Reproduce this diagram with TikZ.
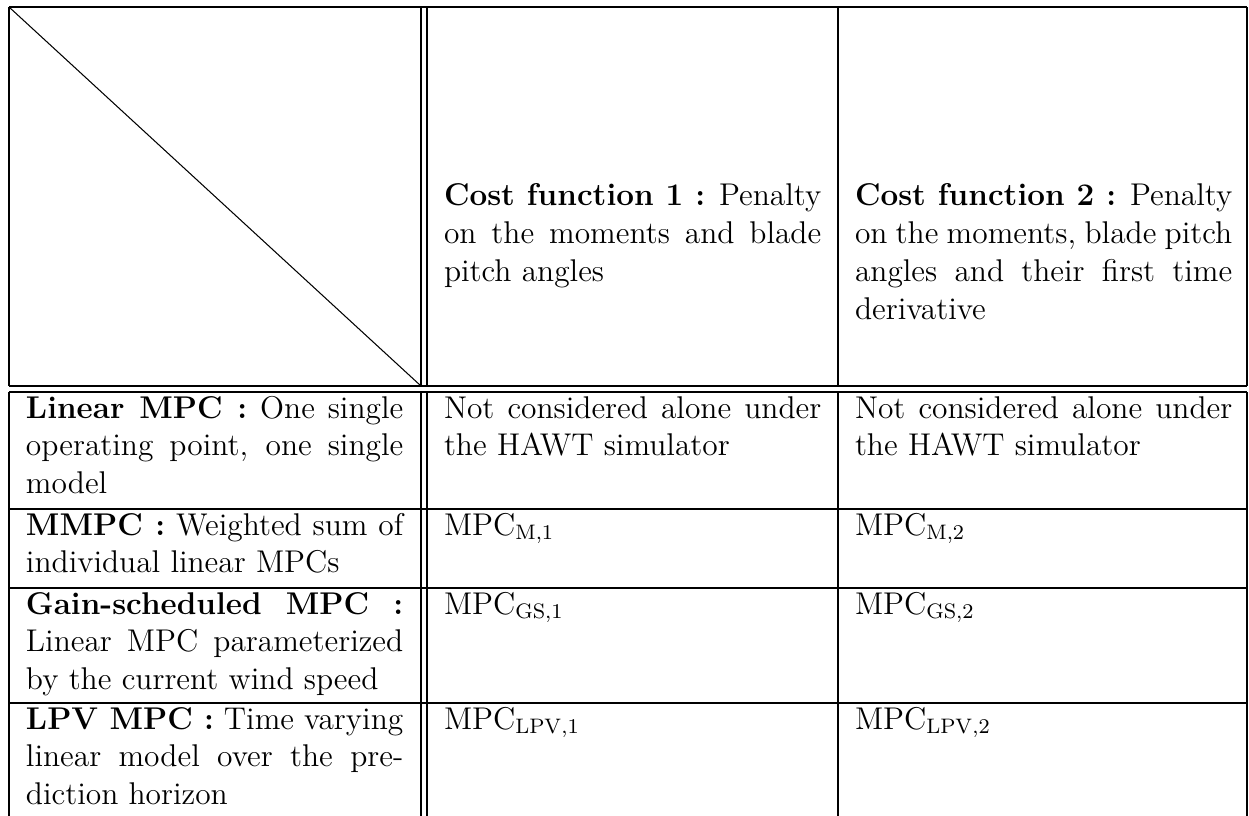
\documentclass[tikz,border=0pt]{standalone}
\begin{document}
\begin{tikzpicture}[x=0.3817pt,y=-0.3817pt,
  rule/.style={line width=0.4pt,black},
  cell/.style={anchor=base west,inner sep=0pt,outer sep=0pt,text width=144pt,align=justify,
    font=\fontsize{12}{14.5}\selectfont}]
\useasboundingbox (0,0) rectangle (1249,816);
% grid coordinates
\coordinate (tl) at (9,7);
\coordinate (dg) at (421,386);
% table rules
\draw[rule] (9,7) -- (1247,7);
\draw[rule] (9,386) -- (1247,386);
\draw[rule] (9,392) -- (1247,392);
\draw[rule] (9,509) -- (1247,509);
\draw[rule] (9,588) -- (1247,588);
\draw[rule] (9,703) -- (1247,703);
\foreach \vx in {9,421,427,838,1247}{
  \draw[rule] (\vx,7) -- (\vx,386);
  \draw[rule] (\vx,392) -- (\vx,816);
}
\draw[rule] (tl) -- (dg);
% header
\node[cell] (h2) at (444,206) {\textbf{Cost function 1 :} Penalty\linebreak on the moments and blade\linebreak pitch angles};
\node[cell] (h3) at (855,206) {\textbf{Cost function 2 :} Penalty\linebreak on the moments, blade pitch\linebreak angles and their first time\linebreak derivative};
% row 1
\node[cell] (r1c1) at (26,418) {\textbf{Linear MPC :} One single\linebreak operating point, one single\linebreak model};
\node[cell] (r1c2) at (444,418) {Not considered alone under\linebreak the HAWT simulator};
\node[cell] (r1c3) at (855,418) {Not considered alone under\linebreak the HAWT simulator};
% row 2
\node[cell] (r2c1) at (26,535) {\textbf{MMPC :} Weighted sum of\linebreak individual linear MPCs};
\node[cell] (r2c2) at (444,535) {MPC$_{\mathrm{M,1}}$};
\node[cell] (r2c3) at (855,535) {MPC$_{\mathrm{M,2}}$};
% row 3
\node[cell] (r3c1) at (26,614) {\textbf{Gain-scheduled MPC :}\linebreak Linear MPC parameterized\linebreak by the current wind speed};
\node[cell] (r3c2) at (444,614) {MPC$_{\mathrm{GS,1}}$};
\node[cell] (r3c3) at (855,614) {MPC$_{\mathrm{GS,2}}$};
% row 4
\node[cell] (r4c1) at (26,729) {\textbf{LPV MPC :} Time varying\linebreak linear model over the pre-\linebreak diction horizon};
\node[cell] (r4c2) at (444,729) {MPC$_{\mathrm{LPV,1}}$};
\node[cell] (r4c3) at (855,729) {MPC$_{\mathrm{LPV,2}}$};
\end{tikzpicture}
\end{document}
